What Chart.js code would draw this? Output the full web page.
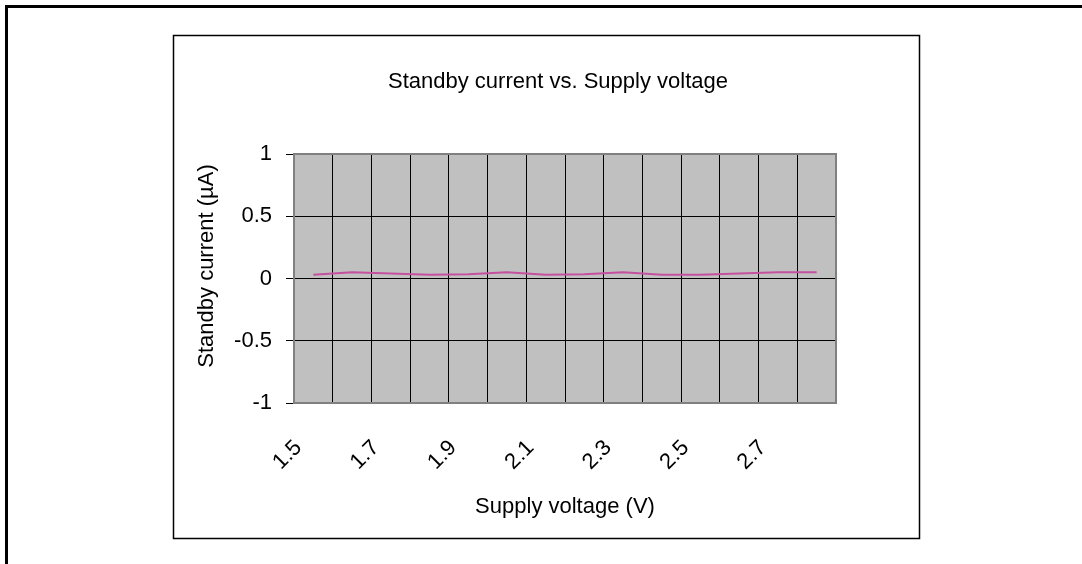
<!DOCTYPE html>
<html><head><meta charset="utf-8">
<script src="https://cdn.jsdelivr.net/npm/chart.js@4"></script>
<style>html,body{margin:0;padding:0;background:#fff;overflow:hidden}#wrap{position:absolute;left:0;top:0;width:1082px;height:564px}</style>
</head><body><div id="wrap"><canvas id="c" width="1082" height="564"></canvas></div>
<script>
const categories = ['1.5','1.6','1.7','1.8','1.9','2.0','2.1','2.2','2.3','2.4','2.5','2.6','2.7','2.8'];
const tickLabels = ['1.5','1.7','1.9','2.1','2.3','2.5','2.7'];
const standbyCurrent = [0.03,0.05,0.04,0.03,0.035,0.05,0.03,0.035,0.05,0.03,0.03,0.04,0.05,0.05];
const yTickValues = [-1,-0.5,0,0.5,1];
const chartTitle = 'Standby current vs. Supply voltage';
const xTitle = 'Supply voltage (V)';
const yTitle = 'Standby current (\u00b5A)';

const FONT = "'Liberation Sans', Arial, sans-serif";
const FS = 22;

const framePlugin = {
  id: 'frame',
  beforeDraw(chart) {
    const ctx = chart.ctx, a = chart.chartArea;
    ctx.save();
    ctx.fillStyle = '#fff';
    ctx.fillRect(0, 0, chart.width, chart.height);
    ctx.strokeStyle = '#000';
    ctx.lineWidth = 3;
    ctx.beginPath();
    ctx.moveTo(1082, 6.5); ctx.lineTo(6.5, 6.5); ctx.lineTo(6.5, 564);
    ctx.stroke();
    ctx.lineWidth = 1.5;
    ctx.strokeRect(173.5, 35.5, 746, 503);
    ctx.fillStyle = '#C0C0C0';
    ctx.fillRect(a.left, a.top, a.right - a.left, a.bottom - a.top);
    ctx.restore();
  },
  beforeDatasetsDraw(chart) {
    const ctx = chart.ctx, a = chart.chartArea;
    ctx.save();
    ctx.strokeStyle = '#808080';
    ctx.lineWidth = 2;
    ctx.strokeRect(a.left, a.top, a.right - a.left, a.bottom - a.top);
    ctx.restore();
  },
  afterDraw(chart) {
    const ctx = chart.ctx;
    ctx.save();
    ctx.fillStyle = '#000';
    ctx.font = FS + 'px ' + FONT;
    ctx.textAlign = 'center';
    ctx.textBaseline = 'middle';
    ctx.fillText(chartTitle, 558, 82);
    ctx.translate(207, 266);
    ctx.rotate(-Math.PI / 2);
    ctx.fillText(yTitle, 0, 0);
    ctx.restore();
  }
};

new Chart(document.getElementById('c'), {
  type: 'line',
  data: {
    labels: categories,
    datasets: [{
      data: standbyCurrent,
      borderColor: '#C4509F',
      borderWidth: 2,
      pointRadius: 0,
      tension: 0,
      fill: false
    }]
  },
  options: {
    responsive: false,
    animation: false,
    devicePixelRatio: 1,
    layout: { padding: { left: 197.8, right: 246, top: 154, bottom: 43.8 } },
    plugins: { legend: { display: false }, tooltip: { enabled: false }, title: { display: false } },
    scales: {
      x: {
        offset: true,
        grid: { offset: true, color: '#000', lineWidth: 1, drawTicks: false, tickLength: 0 },
        border: { display: false },
        ticks: {
          autoSkip: false, maxRotation: 45, minRotation: 45, padding: 32, labelOffset: -15,
          color: '#000', font: { family: FONT, size: FS },
          callback: function(v, i) { const c = categories[i]; return tickLabels.includes(c) ? c : ''; }
        },
        title: { display: true, text: xTitle, color: '#000', font: { family: FONT, size: FS }, padding: 0 },
        afterFit(scale) { scale.height = 117.2; }
      },
      y: {
        min: -1, max: 1,
        afterBuildTicks(scale) { scale.ticks = yTickValues.map(v => ({ value: v })); },
        grid: { color: '#000', lineWidth: 1, drawTicks: true, tickLength: 8, tickColor: '#000' },
        border: { display: false },
        ticks: { padding: 14, color: '#000', font: { family: FONT, size: FS }, callback: v => String(v) },
        title: { display: false },
        afterFit(scale) { scale.width = 96.2; }
      }
    }
  },
  plugins: [framePlugin]
});
</script></body></html>
